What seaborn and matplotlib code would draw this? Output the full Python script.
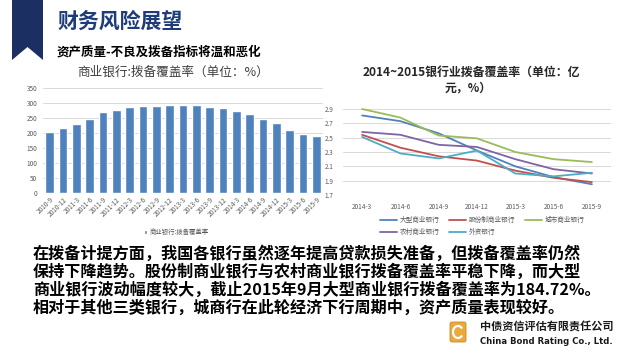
"""
Slide: 财务风险展望 -- provision coverage ratio charts (bar + line).
"""

import numpy as np
import pandas as pd
import matplotlib
matplotlib.use("Agg")
import matplotlib.pyplot as plt
from matplotlib.patches import Polygon, FancyBboxPatch, Arc
import seaborn as sns


# ── data: left chart (商业银行拨备覆盖率, %) ──
BAR_PERIODS = ["2010-9", "2010-12", "2011-3", "2011-6", "2011-9", "2011-12",
               "2012-3", "2012-6", "2012-9", "2012-12", "2013-3", "2013-6",
               "2013-9", "2013-12", "2014-3", "2014-6", "2014-9", "2014-12",
               "2015-3", "2015-6", "2015-9"]
BAR_VALUES = [203, 217, 230, 248, 270, 278, 287, 290, 289, 295, 292, 292,
              287, 282, 273, 262, 247, 232, 211, 198, 190]
BAR_LABEL = "商业银行:拨备覆盖率"

# ── data: right chart (2014~2015 by bank type) ──
LINE_PERIODS = ["2014-3", "2014-6", "2014-9", "2014-12", "2015-3", "2015-6", "2015-9"]
BIG_BANKS = [2.81, 2.73, 2.56, 2.32, 2.10, 1.95, 1.85]
JOINT_STOCK = [2.54, 2.36, 2.24, 2.18, 2.04, 1.94, 1.88]
CITY_BANKS = [2.90, 2.78, 2.53, 2.49, 2.30, 2.20, 2.16]
RURAL_BANKS = [2.58, 2.54, 2.40, 2.37, 2.20, 2.06, 2.00]
FOREIGN_BANKS = [2.51, 2.28, 2.21, 2.32, 2.00, 1.96, 2.01]
SERIES_NAMES = ["大型商业银行", "股份制商业银行", "城市商业银行", "农村商业银行", "外资银行"]
Y_TICKS = [1.7, 1.9, 2.1, 2.3, 2.5, 2.7, 2.9]

BODY_LINES = [
    "在拨备计提方面，我国各银行虽然逐年提高贷款损失准备，但拨备覆盖率仍然",
    "保持下降趋势。股份制商业银行与农村商业银行拨备覆盖率平稳下降，而大型",
    "商业银行波动幅度较大，截止2015年9月大型商业银行拨备覆盖率为184.72%。",
    "相对于其他三类银行，城商行在此轮经济下行周期中，资产质量表现较好。",
]

# Excel-2010 style palette
SERIES_COLORS = ["#4F81BD", "#C0504D", "#9BBB59", "#8064A2", "#4BACC6"]
NAVY = "#1B2F62"
TICK_GRAY = "#595959"
GRID_GRAY = "#D9D9D9"

W, H = 640, 360

sns.set_theme(style="white")
plt.rcParams["font.family"] = ["Noto Sans CJK SC", "DejaVu Sans"]
plt.rcParams["axes.unicode_minus"] = False


def fig_rect(x0, y0, x1, y1):
    """Pixel box (top-left origin) -> figure fraction rect."""
    return [x0 / W, 1 - y1 / H, (x1 - x0) / W, (y1 - y0) / H]


fig = plt.figure(figsize=(6.4, 3.6), dpi=100)
fig.patch.set_facecolor("white")

# overlay axes in pixel coords for the slide decorations and text
bg = fig.add_axes([0, 0, 1, 1])
bg.set_xlim(0, W)
bg.set_ylim(H, 0)
bg.axis("off")

# ribbon bookmark
bg.add_patch(Polygon([(12, 0), (43, 0), (43, 60), (27.5, 47), (12, 60)],
                     closed=True, facecolor=NAVY, edgecolor="none"))
bg.text(57, 21, "财务风险展望", fontsize=15, fontweight="bold",
        color="#1F3C7A", va="center", ha="left")
bg.text(57, 52, "资产质量-不良及拨备指标将温和恶化", fontsize=9,
        fontweight="bold", color="black", va="center", ha="left")

# body paragraph
for i, line in enumerate(BODY_LINES):
    bg.text(33, 253 + i * 18.3, line, fontsize=11.6, fontweight="bold",
            color="black", va="center", ha="left")

# company logo
bg.add_patch(FancyBboxPatch((450, 322), 16, 20, boxstyle="round,pad=0,rounding_size=2",
                            facecolor="#E9A93C", edgecolor="#D08A20", linewidth=0.6))
bg.add_patch(Arc((458, 332), 10, 12, theta1=40, theta2=320, color="white", linewidth=1.6))
bg.text(480, 327, "中债资信评估有限责任公司", fontsize=8, fontweight="bold",
        color="#1a1a1a", va="center", ha="left")
bg.text(480, 342, "China Bond Rating Co., Ltd.", fontsize=6.1, fontweight="bold",
        color="#1a1a1a", va="center", ha="left", family="DejaVu Sans")

# ── left chart: bars ──
bar_df = pd.DataFrame({"period": BAR_PERIODS, "value": BAR_VALUES})
ax1 = fig.add_axes(fig_rect(43, 88, 323, 193))
sns.barplot(data=bar_df, x="period", y="value", color=SERIES_COLORS[0],
            saturation=1, width=0.64, ax=ax1)
ax1.set_xlim(-0.5, len(BAR_PERIODS) - 0.5)
ax1.set_ylim(0, 350)
ax1.set_yticks(range(0, 351, 50))
ax1.yaxis.grid(True, color=GRID_GRAY, linewidth=0.7)
ax1.set_axisbelow(True)
for s in ax1.spines.values():
    s.set_visible(False)
ax1.set_xlabel("")
ax1.set_ylabel("")
ax1.tick_params(axis="y", labelsize=4.6, colors=TICK_GRAY, length=0, pad=4)
ax1.tick_params(axis="x", labelsize=4.6, colors=TICK_GRAY, length=0, pad=2)
plt.setp(ax1.get_xticklabels(), rotation=45, ha="right", rotation_mode="anchor")
ax1.legend(handles=[ax1.patches[0]], labels=[BAR_LABEL], loc="center",
           bbox_to_anchor=(176 / W, 1 - 232 / H), bbox_transform=fig.transFigure,
           frameon=False, fontsize=4.6, handlelength=0.6, handleheight=0.6,
           handletextpad=0.3, labelcolor=TICK_GRAY)
bg.text(173, 72, "商业银行:拨备覆盖率（单位：%）", fontsize=9.1,
        color="#404040", va="center", ha="center")

# ── right chart: lines ──
series = [BIG_BANKS, JOINT_STOCK, CITY_BANKS, RURAL_BANKS, FOREIGN_BANKS]
line_df = pd.concat([
    pd.DataFrame({"period": LINE_PERIODS, "ratio": vals, "bank": name})
    for name, vals in zip(SERIES_NAMES, series)
], ignore_index=True)

ax2 = fig.add_axes(fig_rect(343, 109, 611, 195))
sns.lineplot(data=line_df, x="period", y="ratio", hue="bank",
             hue_order=SERIES_NAMES, palette=SERIES_COLORS,
             linewidth=1.3, ax=ax2, legend=False)
ax2.set_xlim(-0.5, len(LINE_PERIODS) - 0.5)
ax2.set_ylim(1.7, 2.9)
ax2.set_yticks(Y_TICKS)
ax2.set_yticklabels([f"{t:.1f}" for t in Y_TICKS])
ax2.yaxis.grid(True, color=GRID_GRAY, linewidth=0.7)
ax2.set_axisbelow(True)
for ln in ax2.lines:
    ln.set_clip_on(False)
for s in ax2.spines.values():
    s.set_visible(False)
ax2.set_xlabel("")
ax2.set_ylabel("")
ax2.tick_params(axis="both", labelsize=4.6, colors=TICK_GRAY, length=0)
ax2.tick_params(axis="x", pad=6)
ax2.tick_params(axis="y", pad=7)

# legend: rows 大型/股份制/城市, then 农村/外资 (matplotlib fills column-wise)
handles = {name: ln for name, ln in zip(SERIES_NAMES, ax2.lines)}
order = ["大型商业银行", "农村商业银行", "股份制商业银行", "外资银行", "城市商业银行"]
ax2.legend([handles[n] for n in order], order, ncol=3, loc="upper left",
           bbox_to_anchor=(374 / W, 1 - 210 / H), bbox_transform=fig.transFigure,
           frameon=False, fontsize=4.8, handlelength=2.6, handletextpad=0.4,
           columnspacing=1.4, labelspacing=0.6, labelcolor=TICK_GRAY)

bg.text(471, 72, "2014~2015银行业拨备覆盖率（单位：亿", fontsize=8.6,
        fontweight="bold", color="#262626", va="center", ha="center")
bg.text(468, 88, "元，%）", fontsize=8.6, fontweight="bold",
        color="#262626", va="center", ha="center")

fig.savefig("out.png", dpi=100, facecolor="white")
